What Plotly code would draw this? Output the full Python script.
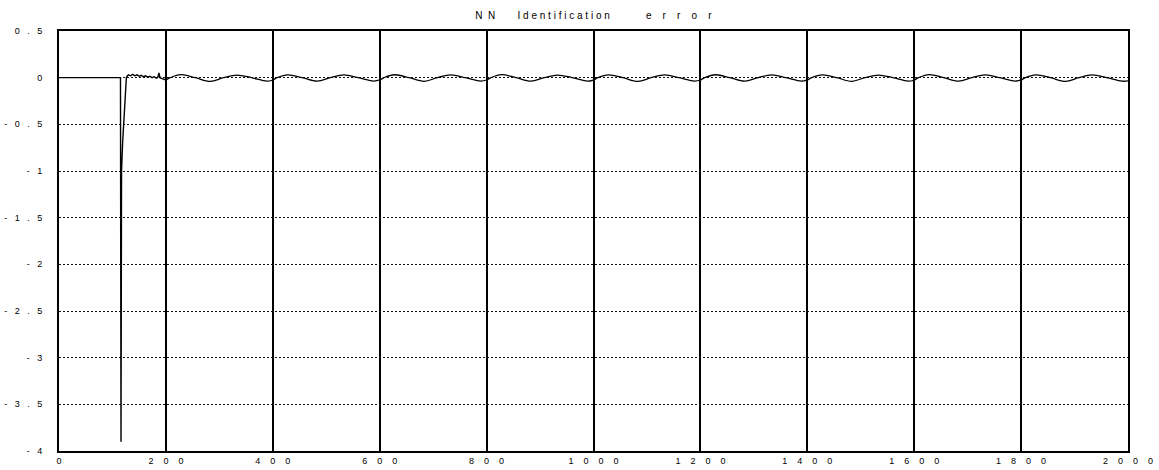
import plotly.graph_objects as go

# ---- data ----
# transient part (start-up of the identification)
t_transient = [0, 115, 116, 117, 119, 122, 124, 126, 128, 130, 134, 138, 142, 146, 150,
               154, 158, 162, 166, 170, 174, 178, 182, 185, 187, 189, 193, 197, 200]
e_transient = [0.0, 0.0, -3.9, -1.0, -0.7, -0.4, -0.15, 0.0, 0.02, 0.03, 0.02, 0.035, 0.02,
               0.03, 0.015, 0.025, 0.01, 0.02, 0.005, 0.015, 0.0, 0.01, -0.005, 0.005, 0.05,
               0.0, -0.01, -0.02, -0.025]

# steady oscillation after t = 200
t_steady = [200, 208, 228, 255, 283, 308, 333, 360, 389,
            400, 408, 428, 455, 483, 508, 533, 560, 589,
            600, 608, 628, 655, 683, 708, 733, 760, 789,
            800, 808, 828, 855, 883, 908, 933, 960, 989,
            1000, 1008, 1028, 1055, 1083, 1108, 1133, 1160, 1189,
            1200, 1208, 1228, 1255, 1283, 1308, 1333, 1360, 1389,
            1400, 1408, 1428, 1455, 1483, 1508, 1533, 1560, 1589,
            1600, 1608, 1628, 1655, 1683, 1708, 1733, 1760, 1789,
            1800, 1808, 1828, 1855, 1883, 1908, 1933, 1960, 1989,
            2000]
e_steady = [-0.025, 0.0, 0.032, 0.0, -0.040, 0.0, 0.028, 0.0, -0.038,
            -0.025, 0.0, 0.030, 0.0, -0.038, 0.0, 0.030, 0.0, -0.036,
            -0.024, 0.0, 0.031, 0.0, -0.039, 0.0, 0.029, 0.0, -0.037,
            -0.025, 0.0, 0.032, 0.0, -0.038, 0.0, 0.028, 0.0, -0.038,
            -0.024, 0.0, 0.030, 0.0, -0.040, 0.0, 0.030, 0.0, -0.036,
            -0.025, 0.0, 0.031, 0.0, -0.038, 0.0, 0.029, 0.0, -0.037,
            -0.024, 0.0, 0.030, 0.0, -0.039, 0.0, 0.028, 0.0, -0.038,
            -0.025, 0.0, 0.032, 0.0, -0.038, 0.0, 0.030, 0.0, -0.036,
            -0.024, 0.0, 0.030, 0.0, -0.040, 0.0, 0.029, 0.0, -0.038,
            -0.035]

x_ticks = [0, 200, 400, 600, 800, 1000, 1200, 1400, 1600, 1800, 2000]
x_labels = ["0", "2 0 0", "4 0 0", "6 0 0", "8 0 0", "1 0 0 0", "1 2 0 0",
            "1 4 0 0", "1 6 0 0", "1 8 0 0", "2 0 0 0"]
y_ticks = [0.5, 0, -0.5, -1, -1.5, -2, -2.5, -3, -3.5, -4]
y_labels = ["0 . 5", "0", "- 0 . 5", "- 1", "- 1 . 5", "- 2", "- 2 . 5", "- 3",
            "- 3 . 5", "- 4"]
title_words = ["N N", "I d e n t i f i c a t i o n", "e r r o r"]

NB = "\u00a0"


def spaced(s, n):
    return s.replace(" ", NB * n)


title_text = (spaced(title_words[0], 2) + NB * 8 + spaced(title_words[1], 1)
              + NB * 13 + spaced(title_words[2], 4))

fig = go.Figure()
fig.add_trace(go.Scatter(x=t_transient, y=e_transient, mode="lines",
                         line=dict(color="black", width=1.4), showlegend=False))
fig.add_trace(go.Scatter(x=t_steady, y=e_steady, mode="lines",
                         line=dict(color="black", width=1.3, shape="spline"),
                         showlegend=False))

font = dict(family="Liberation Sans, Arial, sans-serif", size=9, color="black")

fig.update_layout(
    width=1159, height=470,
    margin=dict(l=59, r=31, t=31, b=19, autoexpand=False),
    paper_bgcolor="white", plot_bgcolor="white",
    font=font,
    title=dict(text=title_text, x=0.512, xanchor="center",
               y=1 - 15 / 470, yanchor="middle", yref="container",
               font=dict(family="Liberation Sans, Arial, sans-serif", size=10,
                         color="black")),
)
fig.update_xaxes(
    range=[0, 2000], tickvals=x_ticks,
    ticktext=[spaced(s, 4) for s in x_labels],
    showgrid=True, gridcolor="black", gridwidth=2,
    showline=True, linecolor="black", linewidth=2, mirror=True,
    zeroline=False, ticks="", tickfont=font, ticklabelstandoff=0,
    automargin=False,
)
fig.update_yaxes(
    range=[-4, 0.5], tickvals=y_ticks,
    ticktext=[spaced(s, 3) for s in y_labels],
    showgrid=True, gridcolor="#111111", gridwidth=1, griddash="2px,2px",
    showline=True, linecolor="black", linewidth=2, mirror=True,
    zeroline=False, ticks="", tickfont=font, ticklabelstandoff=13,
    automargin=False,
)

fig.write_html("out.html")
